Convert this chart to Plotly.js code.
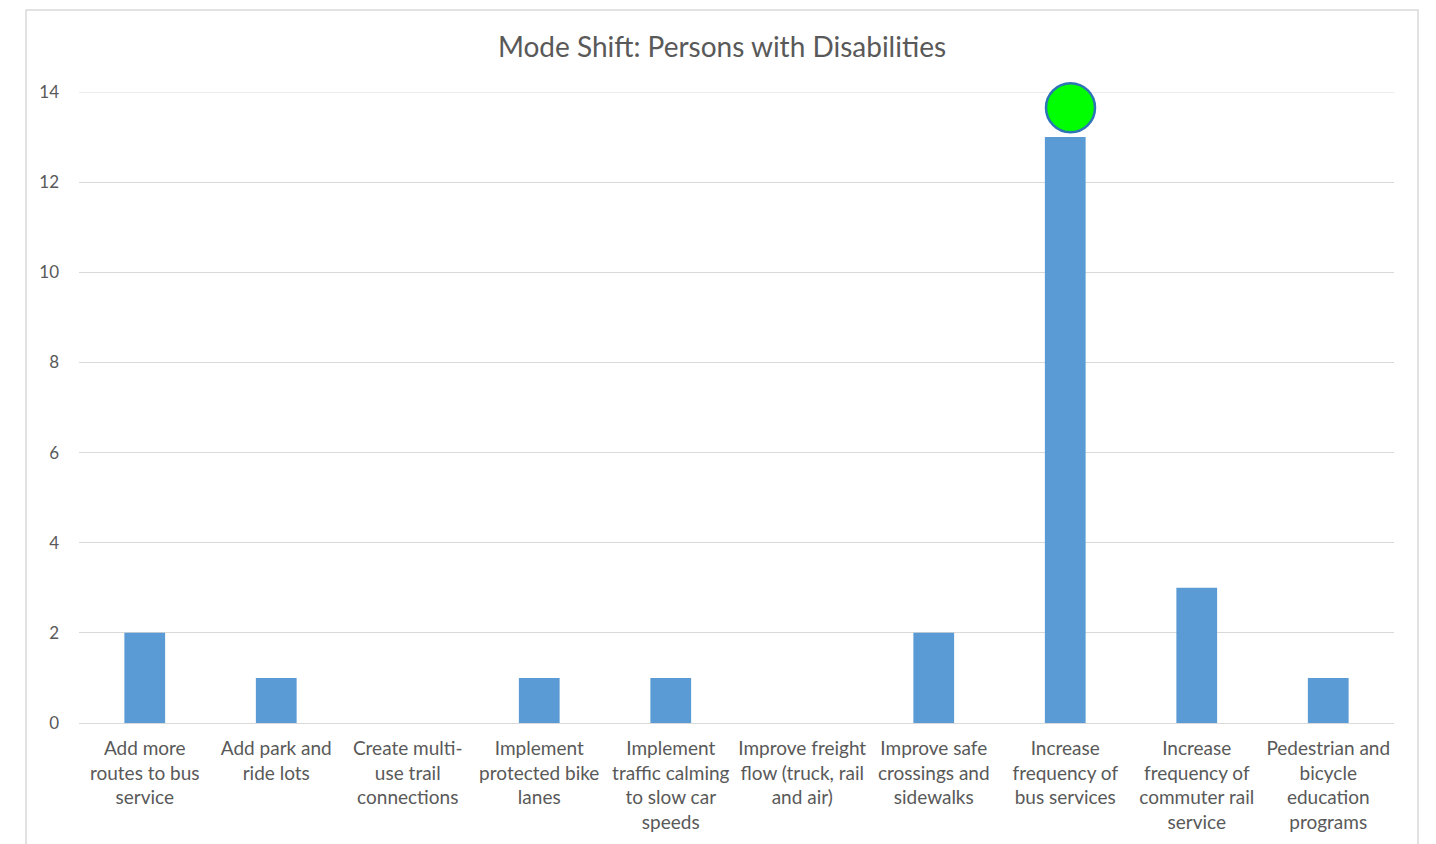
<!DOCTYPE html>
<html>
<head>
<meta charset="utf-8">
<script src="https://cdn.plot.ly/plotly-3.0.1.min.js"></script>
<style>html,body{margin:0;padding:0;background:#fff;}#chart{width:1436px;height:844px;}</style>
</head>
<body>
<div id="chart"></div>
<script>
const categories = [
  "Add more<br>routes to bus<br>service",
  "Add park and<br>ride lots",
  "Create multi-<br>use trail<br>connections",
  "Implement<br>protected bike<br>lanes",
  "Implement<br>traffic calming<br>to slow car<br>speeds",
  "Improve freight<br>flow (truck, rail<br>and air)",
  "Improve safe<br>crossings and<br>sidewalks",
  "Increase<br>frequency of<br>bus services",
  "Increase<br>frequency of<br>commuter rail<br>service",
  "Pedestrian and<br>bicycle<br>education<br>programs"
];
const values = [2, 1, 0, 1, 1, 0, 2, 13, 3, 1];
const highlightIndex = [7.04];
const highlightY = [13.65];
const yTicks = [0, 2, 4, 6, 8, 10, 12, 14];

const FONT = "Lato, Open Sans, sans-serif";
const TXT = "#595959";

const traces = [
  {
    type: "bar",
    x: categories,
    y: values,
    marker: {color: "#5B9BD5"},
    hoverinfo: "x+y"
  },
  {
    type: "scatter",
    mode: "markers",
    x: highlightIndex,
    y: highlightY,
    xaxis: "x2",
    marker: {size: 49, color: "#00FF00", line: {color: "#2E75B6", width: 2.5}},
    cliponaxis: false,
    hoverinfo: "skip"
  }
];

const layout = {
  width: 1436,
  height: 844,
  margin: {l: 79, r: 42, t: 92, b: 121},
  paper_bgcolor: "#ffffff",
  plot_bgcolor: "#ffffff",
  showlegend: false,
  bargap: 0.69,
  font: {family: FONT, color: TXT},
  title: {
    text: "Mode Shift: Persons with Disabilities",
    font: {family: FONT, size: 28, color: TXT},
    x: 722 / 1436, xref: "container", xanchor: "center",
    y: 1 - 47 / 844, yref: "container", yanchor: "middle"
  },
  xaxis: {
    type: "category",
    showgrid: false,
    showline: false,
    zeroline: false,
    ticks: "",
    tickangle: 0,
    ticklabelstandoff: 12,
    tickfont: {family: FONT, size: 19, color: TXT},
    fixedrange: true
  },
  xaxis2: {
    overlaying: "x",
    range: [-0.5, categories.length - 0.5],
    visible: false,
    fixedrange: true
  },
  yaxis: {
    range: [0, 14],
    tickvals: yTicks,
    ticktext: yTicks.map(String),
    showgrid: true,
    gridcolor: "#D9D9D9",
    gridwidth: 1,
    zeroline: true,
    zerolinecolor: "#D9D9D9",
    zerolinewidth: 1,
    showline: false,
    ticks: "",
    ticklabelstandoff: 19,
    tickfont: {family: FONT, size: 17, color: TXT},
    fixedrange: true
  },
  shapes: [
    {
      type: "line", xref: "paper", yref: "y",
      x0: 0, x1: 1, y0: yTicks[yTicks.length - 1], y1: yTicks[yTicks.length - 1],
      line: {color: "#D9D9D9", width: 1},
      layer: "below"
    },
    {
      type: "rect", xref: "paper", yref: "paper",
      x0: (26 - 79) / 1315, x1: (1418 - 79) / 1315,
      y0: -0.4, y1: (723 - 10) / 631,
      line: {color: "#D9D9D9", width: 1.5},
      fillcolor: "rgba(0,0,0,0)",
      layer: "below"
    }
  ]
};

Plotly.newPlot("chart", traces, layout, {displayModeBar: false, staticPlot: true});
</script>
</body>
</html>
